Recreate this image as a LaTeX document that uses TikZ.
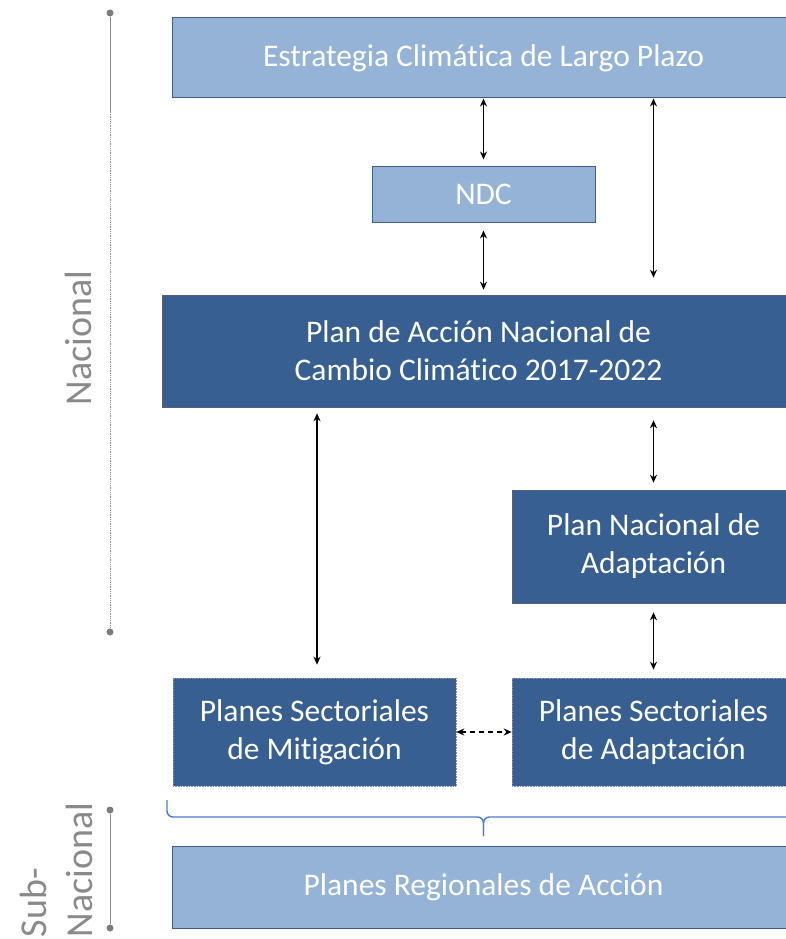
\documentclass[tikz,border=0pt]{standalone}
\usepackage{fontspec}
\setmainfont{Carlito}[Ligatures={NoCommon}]
\usetikzlibrary{positioning, arrows.meta}
\definecolor{lightbox}{HTML}{95B3D7}
\definecolor{lightedge}{HTML}{3E5F8A}
\definecolor{darkbox}{HTML}{375F91}
\definecolor{darkedge}{HTML}{5A5C80}
\definecolor{levelgray}{HTML}{8A8A8A}
\definecolor{bracecol}{HTML}{4A7BC8}

\begin{document}
\begin{tikzpicture}[x=1pt,y=-1pt,>={Stealth[length=8pt,width=7pt]},
    boxtext/.style={text=white,font=\fontsize{31.5}{38}\selectfont,align=center,inner sep=0pt},
    lightplan/.style={boxtext,fill=lightbox,draw=lightedge,line width=1pt},
    darkplan/.style={boxtext,fill=darkbox,draw=darkedge,line width=0.6pt},
    sectorplan/.style={boxtext,fill=darkbox,draw=darkedge!70,densely dotted,line width=0.6pt},
    link/.style={<->,line width=1.5pt},
    levellabel/.style={text=levelgray,font=\fontsize{38}{46}\selectfont,rotate=90,inner sep=0pt},
    levelline/.style={levelgray,line width=0.8pt},
    leveldot/.style={fill=levelgray!90!black,draw=none,circle,inner sep=0pt,minimum size=7pt}]
                \useasboundingbox (0,0) rectangle (785,939);
                % Nodes
                \node[lightplan,minimum width=623,minimum height=80] (ECLP) at (483.5,58) {Estrategia Climática de Largo Plazo};
                \node[lightplan,minimum width=223,minimum height=56] (NDC) at (483.5,194) {NDC};
                \node[darkplan,minimum width=633,minimum height=112] (PANCC) at (478.5,351) {Plan de Acción Nacional de\\Cambio Climático 2017-2022};
                \node[darkplan,minimum width=283,minimum height=113] (PNA) at (653.5,546.5) {Plan Nacional de\\Adaptación};
                \node[sectorplan,minimum width=283,minimum height=108] (PSM) at (314.5,732) {Planes Sectoriales\\de Mitigación};
                \node[sectorplan,minimum width=283,minimum height=108] (PSA) at (653.5,732) {Planes Sectoriales\\de Adaptación};
                \node[lightplan,minimum width=623,minimum height=82] (PRA) at (483.5,887) {Planes Regionales de Acción};

                % Levels
                \node[leveldot] (NacTop) at (110,13) {};
                \node[leveldot] (NacBot) at (110,632) {};
                \node[levellabel] (Nac) at (78,338) {Nacional};
                \node[leveldot] (SubTop) at (110,810) {};
                \node[leveldot] (SubBot) at (110,928) {};
                \node[levellabel,align=left] (Sub) at (56,870) {Sub-\\Nacional};

                \draw[levelline] (NacTop) -- ++(0,100);
                \draw[levelline,densely dotted] (NacTop) -- (NacBot);
                \draw[levelline] (SubTop) -- (SubBot);

                % Arrows
                \draw[link,shorten >=6pt] (ECLP.south -| NDC) -- (NDC.north);
                \draw[link,shorten <=8pt,shorten >=5pt] (NDC.south) -- (PANCC.north -| NDC);
                \draw[link,shorten >=17pt] (ECLP.south -| PNA) -- (PANCC.north -| PNA);
                \draw[link,shorten <=6pt,shorten >=13pt] (PANCC.south -| 317,0) -- (PSM.north -| 317,0);
                \draw[link,shorten <=13pt,shorten >=7pt] (PANCC.south -| PNA) -- (PNA.north);
                \draw[link,shorten <=9pt,shorten >=8pt] (PNA.south) -- (PSA.north);
                \draw[link,dash pattern=on 5pt off 4pt] (PSM.east) -- (PSA.west);

                % Brace
                \coordinate (BraceL) at (167,800);
                \coordinate (BraceTip) at (483.5,836);
                \draw[bracecol,line width=1.4pt,rounded corners=6pt]
                  (BraceL) -- (BraceL |- 0,817) -- (BraceTip |- 0,817) -- (BraceTip);
                \draw[bracecol,line width=1.4pt,rounded corners=6pt]
                  (801,800) -- (801,817) -- (BraceTip |- 0,817) -- (BraceTip);
\end{tikzpicture}
\end{document}
